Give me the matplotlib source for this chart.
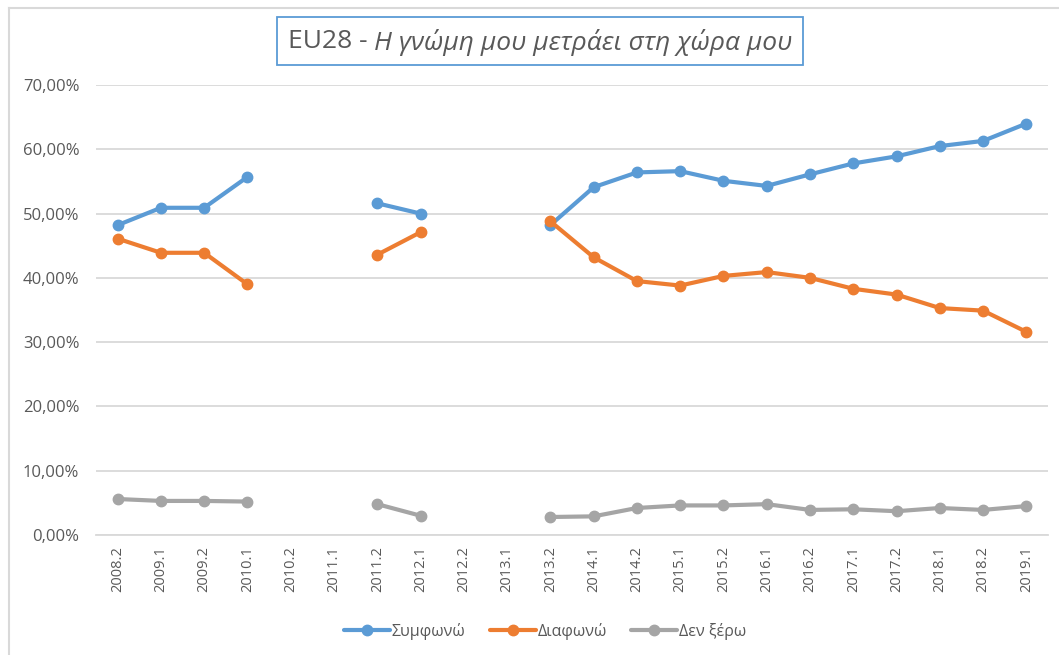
import numpy as np
import matplotlib
matplotlib.use("Agg")
import matplotlib.pyplot as plt
from matplotlib.lines import Line2D
from matplotlib.patches import Rectangle
from matplotlib.ticker import FuncFormatter

plt.rcParams['font.family'] = ['Open Sans', 'DejaVu Sans']

# Data (percent); nan = no survey value
waves = ["2008.2", "2009.1", "2009.2", "2010.1", "2010.2", "2011.1", "2011.2",
         "2012.1", "2012.2", "2013.1", "2013.2", "2014.1", "2014.2", "2015.1",
         "2015.2", "2016.1", "2016.2", "2017.1", "2017.2", "2018.1", "2018.2", "2019.1"]
nan = np.nan
agree = [48.2, 50.9, 50.9, 55.7, nan, nan, 51.6, 50.0, nan, nan, 48.2, 54.1,
         56.4, 56.6, 55.1, 54.3, 56.1, 57.8, 58.9, 60.5, 61.3, 64.0]
disagree = [46.1, 43.9, 43.9, 39.0, nan, nan, 43.6, 47.1, nan, nan, 48.8, 43.2,
            39.5, 38.8, 40.3, 40.9, 40.0, 38.3, 37.4, 35.3, 34.9, 31.6]
dontknow = [5.6, 5.3, 5.3, 5.2, nan, nan, 4.8, 3.0, nan, nan, 2.8, 2.9,
            4.2, 4.6, 4.6, 4.8, 3.9, 4.0, 3.7, 4.2, 3.9, 4.5]
labels = ["Συμφωνώ", "Διαφωνώ", "Δεν ξέρω"]
colors = ["#5B9BD5", "#ED7D31", "#A5A5A5"]

W, H = 1059, 655
fig = plt.figure(figsize=(W / 100, H / 100), dpi=100)
ax = fig.add_axes([96 / W, 1 - 535 / H, (1048 - 96) / W, (535 - 85) / H])

x = np.arange(len(waves))
for series, lab, col in zip([agree, disagree, dontknow], labels, colors):
    ax.plot(x, series, color=col, lw=3, marker='o', markersize=7.5,
            label=lab, solid_capstyle='round')

ax.set_xlim(-0.5, len(waves) - 0.5)
ax.set_ylim(0, 70)
ax.set_yticks(np.arange(0, 71, 10))
ax.yaxis.set_major_formatter(FuncFormatter(lambda v, p: f"{v:.2f}%".replace('.', ',')))
ax.set_xticks(x)
ax.set_xticklabels(waves, rotation=90)
ax.grid(axis='y', color='#D9D9D9', lw=1.3)
ax.set_axisbelow(True)
for s in ['top', 'right', 'left']:
    ax.spines[s].set_visible(False)
ax.spines['bottom'].set_color('#D9D9D9')
ax.spines['bottom'].set_linewidth(1.3)
ax.tick_params(length=0, colors='#595959', labelsize=12)
ax.tick_params(axis='y', pad=12)
ax.tick_params(axis='x', pad=8, labelsize=10.5)

leg = ax.legend(loc='center', bbox_to_anchor=(545 / W, 1 - 631 / H),
                bbox_transform=fig.transFigure, ncol=3, frameon=False,
                fontsize=11.5, handlelength=2.9, handletextpad=0.1, columnspacing=1.5)
for t in leg.get_texts():
    t.set_color('#595959')

# outer chart frame
fig.add_artist(Line2D([8.5 / W, 8.5 / W], [0, 1 - 7.5 / H], color='#D9D9D9', lw=1.5))
fig.add_artist(Line2D([8.5 / W, 1], [1 - 7.5 / H, 1 - 7.5 / H], color='#D9D9D9', lw=1.5))

# title box
fig.add_artist(Rectangle((277 / W, 1 - 65 / H), (803 - 277) / W, (65 - 17) / H,
                         fill=False, edgecolor='#5B9BD5', lw=1.3))
t1 = fig.text(0, 1 - 42 / H, "EU28 - ", fontsize=19, color='#595959',
              va='center', ha='left')
t2 = fig.text(0, 1 - 42 / H, "Η γνώμη μου μετράει στη χώρα μου", fontsize=19,
              style='italic', color='#595959', va='center', ha='left')
fig.canvas.draw()
w1 = t1.get_window_extent().width
w2 = t2.get_window_extent().width
x0 = 540 - (w1 + w2) / 2
t1.set_x(x0 / W)
t2.set_x((x0 + w1) / W)

fig.savefig("out.png", dpi=100)
